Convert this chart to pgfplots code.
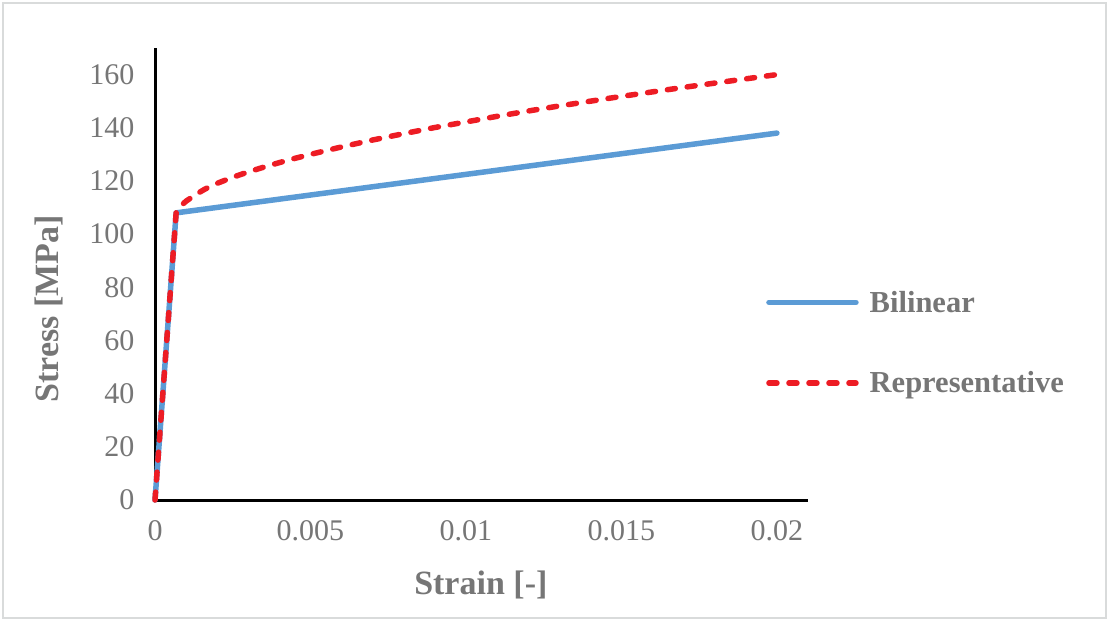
\documentclass[border=0pt]{standalone}
\usepackage{pgfplots}
\pgfplotsset{compat=1.18}
\usepackage{fontspec}
\setmainfont{Liberation Serif}
\definecolor{bl}{RGB}{91,155,213}
\definecolor{rd}{RGB}{237,28,36}
\definecolor{tx}{RGB}{118,118,118}
\definecolor{fr}{RGB}{217,219,219}
\begin{document}
\begin{tikzpicture}
\path (0pt,0pt) rectangle (1110pt,-622pt);
\draw[fr, line width=2.5pt] (3pt,-3pt) rectangle (1106pt,-618pt);
\begin{axis}[
  at={(155pt,-500pt)}, anchor=south west,
  scale only axis, width=653pt, height=452pt,
  xmin=0, xmax=0.021, ymin=0, ymax=170,
  scaled x ticks=false, scaled y ticks=false,
  axis lines=left,
  axis line style={black, line width=3pt, -},
  xtick={0,0.005,0.01,0.015,0.02},
  xticklabels={0,0.005,0.01,0.015,0.02},
  ytick={0,20,40,60,80,100,120,140,160},
  yticklabels={0,20,40,60,80,100,120,140,160},
  major tick length=0pt,
  tick style={draw=none},
  tick label style={text=tx, font=\fontsize{30}{36}\selectfont},
  xticklabel style={yshift=-17pt},
  yticklabel style={xshift=-17pt},
  xlabel={Strain [-]},
  ylabel={Stress [MPa]},
  every axis x label/.style={at={(axis description cs:0.499,0)}, anchor=center, yshift=-85pt, text=tx, font=\fontsize{34}{40}\selectfont\bfseries},
  every axis y label/.style={at={(axis description cs:-0.1623,0.4226)}, anchor=center, rotate=90, text=tx, font=\fontsize{34}{40}\selectfont\bfseries},
  legend style={at={(axis description cs:0.9357,0.348)}, anchor=west, draw=none, fill=none, inner sep=0pt, row sep=58pt, font=\fontsize{30.5}{36}\selectfont\bfseries, text=tx, nodes={inner sep=0pt}, column sep=11pt},
  legend cell align=left,
  legend image code/.code={\draw[#1] (0pt,0pt) -- (87pt,0pt);},
  clip=false,
]
\addplot[bl, line width=5.5pt, line cap=round, line join=round] coordinates {
  (0,0) (0.00068,108) (0.02,138)
};
\addlegendentry{Bilinear}
\addplot[rd, line width=5.5pt, line cap=round, line join=round, dash pattern=on 8pt off 12pt] coordinates {
  (0,0) (0.00068,108) (0.0008,110.3) (0.0010,112.4) (0.0013,114.8) (0.0016,116.9) (0.002,119.1)
  (0.0025,121.4) (0.003,123.4) (0.0035,125.2) (0.004,126.9) (0.0045,128.5) (0.005,130.0) (0.0055,131.4) (0.006,132.8) (0.0065,134.1) (0.007,135.4)
  (0.0075,136.6) (0.008,137.8) (0.009,140.1) (0.010,142.2) (0.011,144.3) (0.012,146.3) (0.013,148.2) (0.014,150.0)
  (0.015,151.8) (0.016,153.5) (0.017,155.2) (0.018,156.8) (0.019,158.4) (0.020,160.0)
};
\addlegendentry{Representative}
\end{axis}
\end{tikzpicture}
\end{document}
